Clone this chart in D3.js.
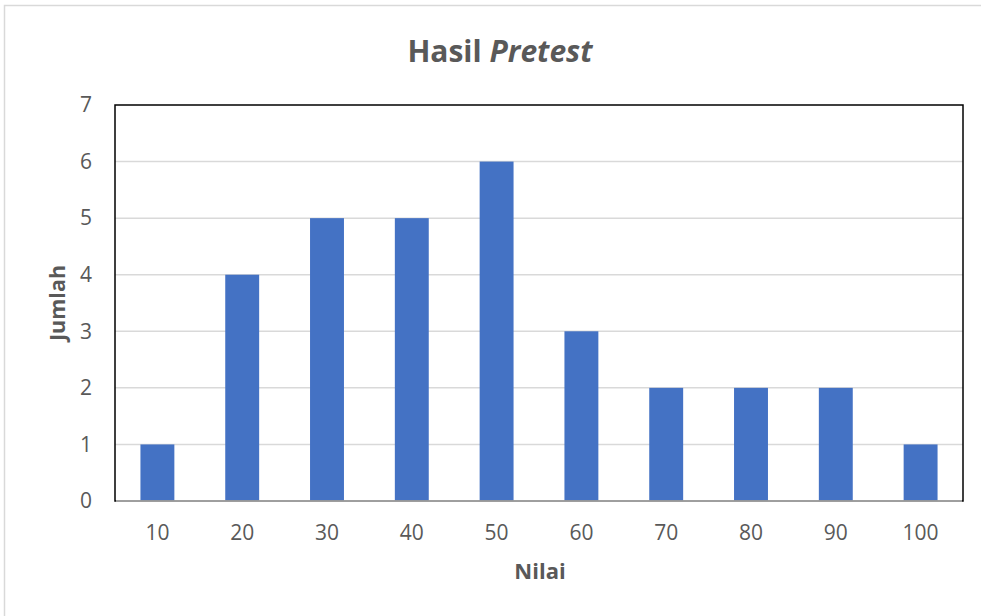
<!DOCTYPE html>
<html><head><meta charset="utf-8">
<script src="https://cdn.jsdelivr.net/npm/d3@7"></script>
<style>body{margin:0;background:#fff}svg{display:block;font-family:"Open Sans","Noto Sans",sans-serif}</style>
</head><body>
<svg id="c" width="981" height="616"></svg>
<script>
const categories = ["10","20","30","40","50","60","70","80","90","100"];
const values = [1,4,5,5,6,3,2,2,2,1];
const yTicks = [0,1,2,3,4,5,6,7];

const svg = d3.select("#c");
const m = {l:115, t:105, r:963, b:501};
// outer chart border
svg.append("rect").attr("x",4.5).attr("y",5.5).attr("width",990).attr("height",620)
  .attr("fill","none").attr("stroke","#d9d9d9").attr("stroke-width",1.5);

const x = d3.scaleBand().domain(categories).range([m.l,m.r]).paddingInner(0.6).paddingOuter(0.3);
const y = d3.scaleLinear().domain([0,7]).range([m.b,m.t]);

// gridlines
svg.append("g").selectAll("line").data(yTicks.slice(1,-1)).join("line")
  .attr("x1",m.l).attr("x2",m.r).attr("y1",d=>y(d)).attr("y2",d=>y(d))
  .attr("stroke","#d9d9d9").attr("stroke-width",1.5);

// bars
svg.append("g").selectAll("rect").data(values).join("rect")
  .attr("x",(d,i)=>x(categories[i])).attr("width",x.bandwidth())
  .attr("y",d=>y(d)).attr("height",d=>y(0)-y(d)).attr("fill","#4472c4");

// plot border
svg.append("rect").attr("x",m.l).attr("y",m.t).attr("width",m.r-m.l).attr("height",m.b-m.t)
  .attr("fill","none").attr("stroke","#000").attr("stroke-width",1.5);
svg.append("line").attr("x1",m.l+1).attr("x2",m.r-1).attr("y1",m.b).attr("y2",m.b)
  .attr("stroke","#bfbfbf").attr("stroke-width",1.5);

// y axis labels
const ya = svg.append("g").attr("transform",`translate(${m.l},0)`)
  .call(d3.axisLeft(y).tickValues(yTicks).tickSize(0).tickPadding(23).tickFormat(d3.format("d")));
ya.select(".domain").remove();
ya.selectAll("text").attr("font-size",21).attr("fill","#595959").attr("font-family","'Open Sans',sans-serif");

// x axis labels
const xa = svg.append("g").attr("transform",`translate(0,${m.b})`)
  .call(d3.axisBottom(x).tickSize(0).tickPadding(24));
xa.select(".domain").remove();
xa.selectAll("text").attr("font-size",21).attr("fill","#595959").attr("font-family","'Open Sans',sans-serif");

// title
const t = svg.append("text").attr("x",500).attr("y",62).attr("text-anchor","middle")
  .attr("font-size",30).attr("font-weight","bold").attr("fill","#595959");
t.append("tspan").text("Hasil ");
t.append("tspan").attr("font-style","italic").text("Pretest");

svg.append("text").attr("x",540).attr("y",579).attr("text-anchor","middle")
  .attr("font-size",22).attr("font-weight","bold").attr("fill","#595959").text("Nilai");
svg.append("text").attr("transform","translate(65,303) rotate(-90)").attr("text-anchor","middle")
  .attr("font-size",21.5).attr("font-weight","bold").attr("fill","#595959").text("Jumlah");
</script>
</body></html>
